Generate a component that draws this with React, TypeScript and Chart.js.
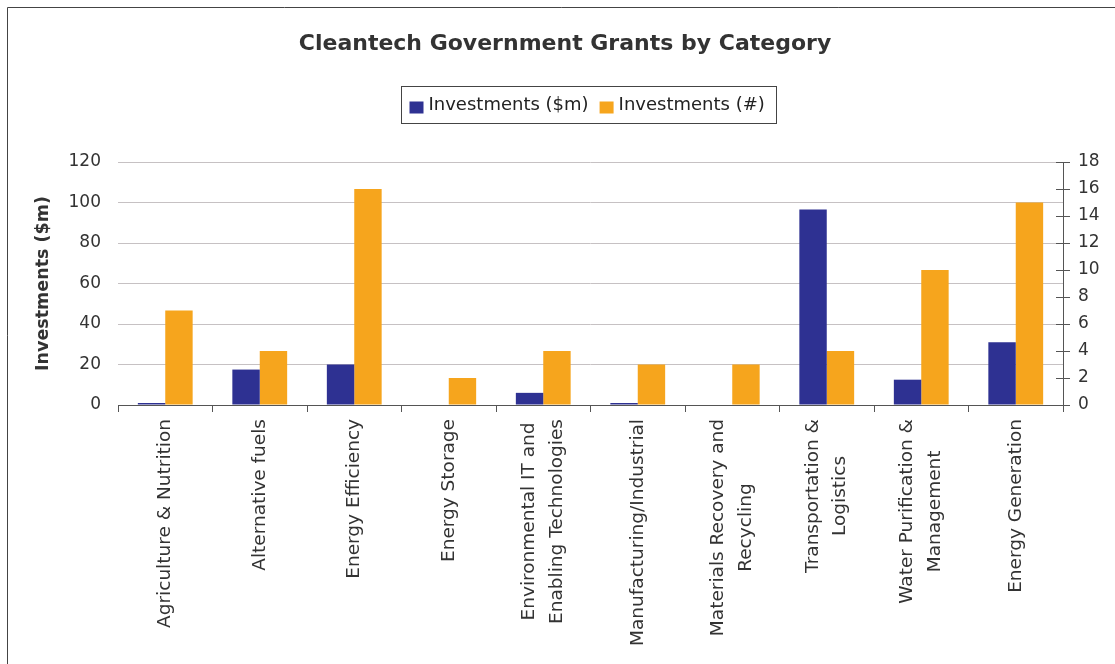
import React, { useEffect, useRef } from 'react';
import { Chart, registerables } from 'chart.js';

Chart.register(...registerables);

const FONT = '"DejaVu Sans", "Liberation Sans", Arial, sans-serif';

const categories: string[][] = [
  ['Agriculture & Nutrition'],
  ['Alternative fuels'],
  ['Energy Efficiency'],
  ['Energy Storage'],
  ['Environmental IT and', 'Enabling Technologies'],
  ['Manufacturing/Industrial'],
  ['Materials Recovery and', 'Recycling'],
  ['Transportation &', 'Logistics'],
  ['Water Purification &', 'Management'],
  ['Energy Generation'],
];

const investmentsMillions: number[] = [1, 17.5, 20, 0, 6, 1, 0, 96.5, 12.5, 31];
const investmentsCount: number[] = [7, 4, 16, 2, 4, 3, 3, 4, 10, 15];

const seriesLabels = ['Investments ($m)', 'Investments (#)'];
const seriesColors = ['#2E3192', '#F6A51D'];

const leftAxis = { min: 0, max: 120, step: 20, title: 'Investments ($m)' };
const rightAxis = { min: 0, max: 18, step: 2 };

const AXIS_COLOR = '#555555';
const GRID_COLOR = '#C6C1C3';
const TEXT_COLOR = '#333333';

const framePlugin = {
  id: 'frame',
  beforeDraw(chart: any) {
    const ctx = chart.ctx;
    ctx.save();
    ctx.strokeStyle = '#444444';
    ctx.lineWidth = 1;
    ctx.beginPath();
    ctx.moveTo(7.5, chart.height);
    ctx.lineTo(7.5, 7.5);
    ctx.lineTo(chart.width, 7.5);
    ctx.stroke();
    ctx.restore();
  },
};

const xLabelsPlugin = {
  id: 'xLabels',
  afterDraw(chart: any) {
    const ctx = chart.ctx;
    const xs = chart.scales.x;
    const lh = 27.5;
    ctx.save();
    ctx.font = `18.5px ${FONT}`;
    ctx.fillStyle = TEXT_COLOR;
    ctx.textAlign = 'center';
    ctx.textBaseline = 'middle';
    (chart.data.labels as any[]).forEach((lab, i) => {
      const lines: string[] = Array.isArray(lab) ? lab : [String(lab)];
      const x = xs.getPixelForTick(i);
      const maxW = Math.max(...lines.map((l) => ctx.measureText(l).width));
      ctx.save();
      ctx.translate(x, xs.top + 14);
      ctx.rotate(-Math.PI / 2);
      lines.forEach((l, j) => {
        ctx.fillText(l, -maxW / 2, (j - (lines.length - 1) / 2) * lh);
      });
      ctx.restore();
    });
    ctx.restore();
  },
};

const innerTicksPlugin = {
  id: 'innerTicks',
  afterDraw(chart: any) {
    const ctx = chart.ctx;
    const ys = chart.scales.y1;
    const x = chart.chartArea.right;
    ctx.save();
    ctx.strokeStyle = AXIS_COLOR;
    ctx.lineWidth = 1;
    ys.ticks.forEach((_t: any, i: number) => {
      const y = Math.round(ys.getPixelForTick(i)) + 0.5;
      ctx.beginPath();
      ctx.moveTo(x - 7, y);
      ctx.lineTo(x, y);
      ctx.stroke();
    });
    ctx.restore();
  },
};

const legendPlugin = {
  id: 'boxLegend',
  afterDraw(chart: any) {
    const ctx = chart.ctx;
    const centerX = 589;
    const top = 86.5;
    const bottom = 123.5;
    const textY = 105.5;
    const sw = 14;
    const sh = 12;
    const padL = 8;
    const padR = 12;
    const gapText = 5;
    const gapItem = 11;
    ctx.save();
    ctx.font = `18px ${FONT}`;
    const items = chart.data.datasets.map((d: any) => ({
      label: d.label,
      color: d.backgroundColor,
      w: ctx.measureText(d.label).width,
    }));
    let total = padL + padR;
    items.forEach((it: any, i: number) => {
      total += sw + gapText + it.w + (i < items.length - 1 ? gapItem : 0);
    });
    const left = Math.round(centerX - total / 2) + 0.5;
    ctx.strokeStyle = '#444444';
    ctx.lineWidth = 1;
    ctx.strokeRect(left, top, Math.round(total), bottom - top);
    let x = left + padL;
    ctx.textAlign = 'left';
    ctx.textBaseline = 'middle';
    items.forEach((it: any) => {
      ctx.fillStyle = it.color;
      ctx.fillRect(x, 101.5, sw, sh);
      x += sw + gapText;
      ctx.fillStyle = '#222222';
      ctx.fillText(it.label, x, textY);
      x += it.w + gapItem;
    });
    ctx.restore();
  },
};

export default function App() {
  const canvasRef = useRef<HTMLCanvasElement | null>(null);

  useEffect(() => {
    if (!canvasRef.current) return;
    Chart.defaults.font.family = FONT;
    const chart = new Chart(canvasRef.current, {
      type: 'bar',
      data: {
        labels: categories,
        datasets: [
          {
            label: seriesLabels[0],
            data: investmentsMillions,
            backgroundColor: seriesColors[0],
            yAxisID: 'y',
            categoryPercentage: 0.58,
            barPercentage: 1.0,
          },
          {
            label: seriesLabels[1],
            data: investmentsCount,
            backgroundColor: seriesColors[1],
            yAxisID: 'y1',
            categoryPercentage: 0.58,
            barPercentage: 1.0,
          },
        ],
      },
      options: {
        animation: false,
        responsive: true,
        maintainAspectRatio: false,
        layout: { padding: { left: 15, right: 0, top: 0, bottom: 0 } },
        plugins: {
          legend: { display: false },
          tooltip: { enabled: false },
          title: {
            display: true,
            text: 'Cleantech Government Grants by Category',
            color: TEXT_COLOR,
            font: { family: FONT, size: 22, weight: 'bold', lineHeight: 1.2 },
            padding: { top: 30.8, bottom: 104.8 },
          },
        },
        scales: {
          x: {
            type: 'category',
            offset: true,
            grid: {
              offset: true,
              drawOnChartArea: false,
              drawTicks: true,
              tickLength: 7,
              tickColor: AXIS_COLOR,
              color: AXIS_COLOR,
            },
            border: { display: true, color: AXIS_COLOR, width: 1 },
            ticks: { display: false },
            afterFit: (scale: any) => {
              scale.height = 259;
            },
          },
          y: {
            position: 'left',
            min: leftAxis.min,
            max: leftAxis.max,
            ticks: {
              stepSize: leftAxis.step,
              color: TEXT_COLOR,
              font: { family: FONT, size: 17 },
              padding: 17,
            },
            grid: { color: GRID_COLOR, drawTicks: false, lineWidth: 1 },
            border: { display: false },
            title: {
              display: true,
              text: leftAxis.title,
              color: TEXT_COLOR,
              font: { family: FONT, size: 17.5, weight: 'bold', lineHeight: 1.2 },
              padding: { top: 17.5, bottom: 0 },
            },
            afterFit: (scale: any) => {
              scale.width = 103;
            },
          },
          y1: {
            position: 'right',
            min: rightAxis.min,
            max: rightAxis.max,
            ticks: {
              stepSize: rightAxis.step,
              color: TEXT_COLOR,
              font: { family: FONT, size: 17 },
              padding: 8,
            },
            grid: {
              drawOnChartArea: false,
              drawTicks: true,
              tickLength: 7,
              tickColor: AXIS_COLOR,
              color: AXIS_COLOR,
            },
            border: { display: true, color: AXIS_COLOR, width: 1 },
            afterFit: (scale: any) => {
              scale.width = 52;
            },
          },
        },
      },
      plugins: [framePlugin, xLabelsPlugin, innerTicksPlugin, legendPlugin],
    } as any);
    return () => chart.destroy();
  }, []);

  return (
    <div style={{ position: 'absolute', left: 0, top: 0, width: 1115, height: 664, background: '#ffffff' }}>
      <canvas ref={canvasRef} />
    </div>
  );
}
